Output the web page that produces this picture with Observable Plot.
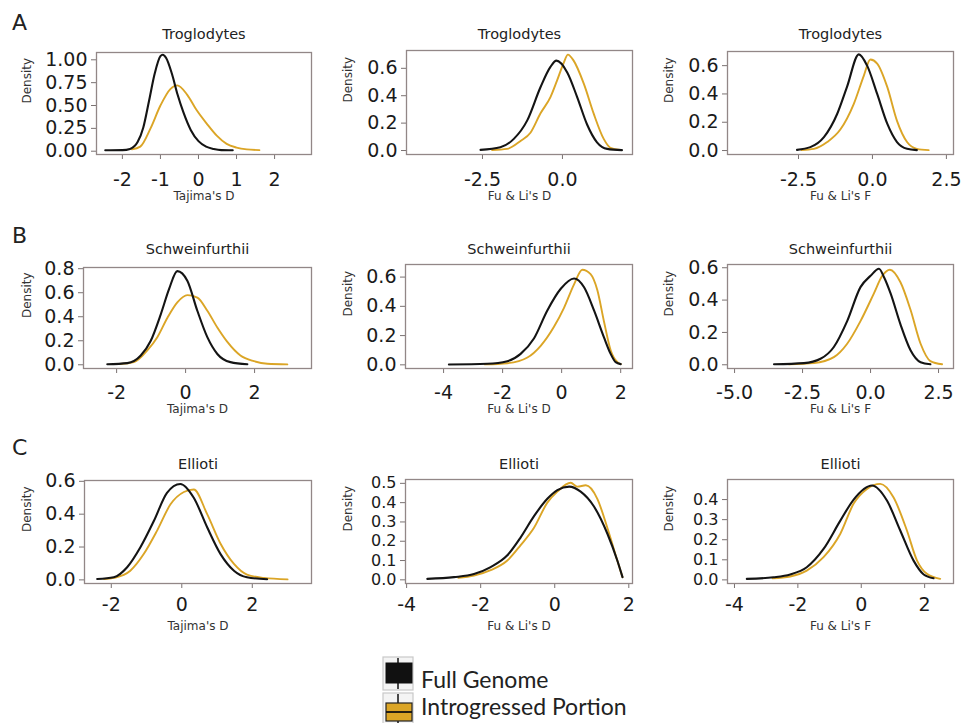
<!DOCTYPE html>
<html>
<head>
<meta charset="utf-8">
<script src="https://cdn.jsdelivr.net/npm/d3@7"></script>
<script src="https://cdn.jsdelivr.net/npm/@observablehq/plot@0.6"></script>
<style>
  html, body { margin: 0; padding: 0; background: #fff; }
  #fig { position: relative; width: 962px; height: 723px; overflow: hidden; background: #fff; }
  #fig > .panel { position: absolute; }
  #fig > svg.overlay { position: absolute; left: 0; top: 0; }
  #fig svg text { font-family: "DejaVu Sans", "Liberation Sans", sans-serif; }
  #fig svg text.leg { font-family: "Lato", "Open Sans", sans-serif; }
</style>
</head>
<body>
<div id="fig"></div>
<script>
// ---------------- DATA ----------------
// Row A: Troglodytes
const trogTajFullX  = [-2.45,-2.0,-1.8,-1.6,-1.45,-1.3,-1.15,-1.0,-0.94,-0.85,-0.7,-0.55,-0.4,-0.2,0,0.2,0.4,0.6,0.9];
const trogTajFullY  = [0.01,0.012,0.025,0.1,0.26,0.55,0.85,1.04,1.055,1.02,0.85,0.62,0.43,0.23,0.11,0.05,0.025,0.012,0.01];
const trogTajIntX   = [-1.75,-1.53,-1.26,-1.0,-0.74,-0.56,-0.3,-0.05,0.22,0.48,0.74,1.0,1.27,1.6];
const trogTajIntY   = [0.02,0.05,0.25,0.5,0.68,0.72,0.62,0.45,0.3,0.17,0.08,0.04,0.02,0.012];

const trogFLDFullX  = [-2.56,-1.94,-1.52,-1.1,-0.69,-0.375,-0.19,0.15,0.46,0.77,1.08,1.4,1.86];
const trogFLDFullY  = [0.005,0.024,0.085,0.22,0.46,0.61,0.656,0.57,0.39,0.19,0.06,0.012,0.003];
const trogFLDIntX   = [-2.2,-1.73,-1.31,-1.0,-0.69,-0.375,-0.17,0.04,0.17,0.35,0.67,0.98,1.29,1.5,1.81];
const trogFLDIntY   = [0.004,0.012,0.07,0.13,0.27,0.39,0.51,0.64,0.70,0.656,0.486,0.267,0.085,0.02,0.004];

const trogFLFFullX  = [-2.55,-2.1,-1.64,-1.19,-0.86,-0.46,-0.18,0.16,0.5,0.83,1.17,1.5];
const trogFLFFullY  = [0.005,0.024,0.095,0.26,0.45,0.68,0.6,0.4,0.19,0.06,0.012,0.003];
const trogFLFIntX   = [-2.4,-1.98,-1.53,-1.08,-0.63,-0.29,-0.07,0.16,0.5,0.83,1.17,1.5,1.9];
const trogFLFIntY   = [0.004,0.012,0.06,0.15,0.33,0.53,0.643,0.615,0.45,0.21,0.06,0.012,0.003];

// Row B: Schweinfurthii
const schwTajFullX  = [-2.27,-1.69,-1.3,-1.01,-0.72,-0.48,-0.24,0.05,0.34,0.63,0.92,1.3,1.79];
const schwTajFullY  = [0.005,0.014,0.077,0.2,0.42,0.63,0.78,0.7,0.45,0.23,0.09,0.022,0.005];
const schwTajIntX   = [-1.9,-1.5,-1.11,-0.82,-0.53,-0.24,0.05,0.34,0.63,0.92,1.21,1.59,1.98,2.37,2.95];
const schwTajIntY   = [0.006,0.022,0.12,0.23,0.39,0.52,0.58,0.56,0.45,0.31,0.19,0.077,0.03,0.008,0.003];

const schwFLDFullX  = [-3.82,-2.52,-1.84,-1.39,-0.94,-0.49,-0.03,0.42,0.76,1.1,1.43,1.66,1.83,2.0];
const schwFLDFullY  = [0.002,0.007,0.025,0.075,0.18,0.37,0.52,0.59,0.53,0.37,0.19,0.075,0.018,0.005];
const schwFLDIntX   = [-2.6,-1.84,-1.16,-0.71,-0.26,0.08,0.42,0.7,0.98,1.21,1.43,1.66,1.89,2.0];
const schwFLDIntY   = [0.003,0.011,0.05,0.13,0.26,0.39,0.55,0.65,0.62,0.51,0.30,0.1,0.018,0.005];

const schwFLFFullX  = [-3.55,-2.45,-1.84,-1.35,-0.86,-0.37,0.0,0.31,0.5,0.74,1.1,1.47,1.84,2.2];
const schwFLFFullY  = [0.003,0.01,0.037,0.11,0.27,0.48,0.55,0.594,0.54,0.44,0.25,0.09,0.016,0.003];
const schwFLFIntX   = [-3.0,-2.08,-1.35,-0.86,-0.37,0.12,0.43,0.71,1.1,1.47,1.84,2.2,2.63];
const schwFLFIntY   = [0.003,0.01,0.047,0.13,0.27,0.44,0.55,0.588,0.51,0.34,0.13,0.023,0.003];

// Row C: Ellioti
const ellTajFullX   = [-2.4,-1.93,-1.55,-1.17,-0.79,-0.42,-0.04,0.34,0.72,1.1,1.48,1.85,2.42];
const ellTajFullY   = [0.005,0.016,0.077,0.2,0.36,0.53,0.584,0.5,0.32,0.157,0.056,0.016,0.004];
const ellTajIntX    = [-2.2,-1.93,-1.46,-1.08,-0.7,-0.32,0.06,0.34,0.72,1.1,1.48,1.85,2.33,3.0];
const ellTajIntY    = [0.005,0.012,0.056,0.157,0.3,0.46,0.535,0.55,0.4,0.22,0.097,0.032,0.012,0.003];

const ellFLDFullX   = [-3.44,-2.72,-2.18,-1.73,-1.28,-0.92,-0.56,-0.2,0.07,0.39,0.7,1.06,1.42,1.69,1.83];
const ellFLDFullY   = [0.005,0.014,0.03,0.066,0.127,0.22,0.33,0.42,0.465,0.483,0.457,0.38,0.24,0.1,0.014];
const ellFLDIntX    = [-2.6,-2.18,-1.73,-1.28,-0.92,-0.56,-0.2,0.07,0.43,0.61,0.84,1.15,1.42,1.69,1.83];
const ellFLDIntY    = [0.01,0.022,0.05,0.1,0.18,0.27,0.4,0.457,0.503,0.483,0.49,0.42,0.27,0.1,0.014];

const ellFLFFullX   = [-3.61,-2.77,-2.24,-1.72,-1.19,-0.66,-0.24,0.34,0.81,1.23,1.65,1.97,2.28];
const ellFLFFullY   = [0.005,0.013,0.027,0.063,0.154,0.295,0.40,0.47,0.395,0.246,0.096,0.027,0.008];
const ellFLFIntX    = [-2.8,-2.24,-1.72,-1.19,-0.66,-0.24,0.18,0.6,1.02,1.44,1.76,2.07,2.49];
const ellFLFIntY    = [0.008,0.017,0.046,0.113,0.23,0.38,0.453,0.478,0.41,0.246,0.096,0.03,0.005];

// Titles, axis labels, ticks
const rowTitles   = ["Troglodytes", "Schweinfurthii", "Ellioti"];
const rowLetters  = ["A", "B", "C"];
const colLabels   = ["Tajima's D", "Fu & Li's D", "Fu & Li's F"];
const yLabel      = "Density";
const legendNames = ["Full Genome", "Introgressed Portion"];

const xTicks = [
  [[-2,-1,0,1,2], [-2.5,0], [-2.5,0,2.5]],
  [[-2,0,2], [-4,-2,0,2], [-5,-2.5,0,2.5]],
  [[-2,0,2], [-4,-2,0,2], [-4,-2,0,2]]
];
const xDigits = [[0,1,1],[0,0,1],[0,0,0]];
const yTicks = [
  [[0,0.25,0.5,0.75,1], [0,0.2,0.4,0.6], [0,0.2,0.4,0.6]],
  [[0,0.2,0.4,0.6,0.8], [0,0.2,0.4,0.6], [0,0.2,0.4,0.6]],
  [[0,0.2,0.4,0.6], [0,0.1,0.2,0.3,0.4,0.5], [0,0.1,0.2,0.3,0.4]]
];
const yDigits = [[2,1,1],[1,1,1],[1,1,1]];

const curves = [
  [[trogTajFullX,trogTajFullY,trogTajIntX,trogTajIntY],[trogFLDFullX,trogFLDFullY,trogFLDIntX,trogFLDIntY],[trogFLFFullX,trogFLFFullY,trogFLFIntX,trogFLFIntY]],
  [[schwTajFullX,schwTajFullY,schwTajIntX,schwTajIntY],[schwFLDFullX,schwFLDFullY,schwFLDIntX,schwFLDIntY],[schwFLFFullX,schwFLFFullY,schwFLFIntX,schwFLFIntY]],
  [[ellTajFullX,ellTajFullY,ellTajIntX,ellTajIntY],[ellFLDFullX,ellFLDFullY,ellFLDIntX,ellFLDIntY],[ellFLFFullX,ellFLFFullY,ellFLFIntX,ellFLFIntY]]
];

// ---------------- LAYOUT ----------------
const colLeft = [0, 320, 640];
const colW    = [320, 320, 322];
const rowTop  = [0, 210, 420];
const H = 222;
// frame boxes [left, right, top, bottom] in page px
const frames = [
  [[96,311,52,154],[406,632,50,154],[727,953,51,154]],
  [[83,311,267,368],[405,632,264,368],[727,953,264,368]],
  [[84,311,480,583],[405,632,479,583],[727,953,479,583]]
];
const xDomains = [
  [[-2.68,2.97],[-4.875,2.19],[-4.9,2.74]],
  [[-2.96,3.65],[-5.29,2.4],[-5.26,3.05]],
  [[-2.76,3.68],[-4.03,2.1],[-4.22,2.91]]
];
const yDomains = [
  [[-0.036,1.08],[-0.029,0.73],[-0.028,0.70]],
  [[-0.031,0.81],[-0.025,0.686],[-0.023,0.62]],
  [[-0.022,0.605],[-0.019,0.52],[-0.018,0.5]]
];
const titleBase = [33, 248, 462.5];
const xLabBase  = [203, 416, 633];
const tickTop   = [18, 17, 14];
const densCX    = [26.7, 348, 669];
const yTickFS   = [[19,19,19],[19,19,19],[19,16,16]];

const ORANGE = "#DBA526";
const BLACK  = "#141414";
const FONT = "'DejaVu Sans', 'Liberation Sans', sans-serif";
const TICK_FS = 19;

const fig = document.getElementById("fig");

for (let r = 0; r < 3; r++) {
  for (let c = 0; c < 3; c++) {
    const [fL, fR, fT, fB] = frames[r][c];
    const left = colLeft[c], top = rowTop[r], W = colW[c];
    const [fx, fy, ix, iy] = curves[r][c];
    const full  = fx.map((x, i) => ({x, y: fy[i]}));
    const intro = ix.map((x, i) => ({x, y: iy[i]}));
    const xd = xDigits[r][c], yd = yDigits[r][c];
    const tsize = 5;
    const plot = Plot.plot({
      width: W, height: H,
      marginLeft: fL - left, marginRight: left + W - fR,
      marginTop: fT - top, marginBottom: top + H - fB,
      x: {domain: xDomains[r][c]},
      y: {domain: yDomains[r][c]},
      style: {fontFamily: FONT, background: "transparent", overflow: "visible", color: "#1e1e1e"},
      marks: [
        Plot.axisX({ticks: xTicks[r][c], tickFormat: d => d.toFixed(xd), tickSize: tsize,
          tickPadding: tickTop[r] - tsize, fontSize: TICK_FS, label: null, stroke: "#7a7272", fill: "#1a1a1a"}),
        Plot.axisY({ticks: yTicks[r][c], tickFormat: d => d.toFixed(yd), tickSize: tsize,
          tickPadding: 4, fontSize: yTickFS[r][c], label: null, stroke: "#7a7272", fill: "#1a1a1a"}),
        Plot.line(intro, {x: "x", y: "y", stroke: ORANGE, strokeWidth: 1.9, curve: "monotone-x"}),
        Plot.line(full, {x: "x", y: "y", stroke: BLACK, strokeWidth: 2.1, curve: "monotone-x"}),
        Plot.frame({stroke: "#928787", strokeWidth: 1.3}),
        Plot.text([rowTitles[r]], {text: d => d, frameAnchor: "top", fontSize: 14.5, fill: "#222",
          dy: titleBase[r] - fT - 0.32 * 14.5}),
        Plot.text([colLabels[c]], {text: d => d, frameAnchor: "bottom", fontSize: 12, fill: "#333",
          dy: xLabBase[r] - fB - 0.32 * 12}),
        Plot.text([yLabel], {text: d => d, frameAnchor: "left", rotate: -90, fontSize: 12, fill: "#333",
          dx: densCX[c] - fL})
      ]
    });
    const wrap = document.createElement("div");
    wrap.className = "panel";
    wrap.style.left = left + "px";
    wrap.style.top = top + "px";
    wrap.appendChild(plot);
    fig.appendChild(wrap);
  }
}

// Overlay: panel letters and legend
const ns = "http://www.w3.org/2000/svg";
const ov = document.createElementNS(ns, "svg");
ov.setAttribute("class", "overlay");
ov.setAttribute("width", 962);
ov.setAttribute("height", 723);
const letterBase = [30, 243, 455];
rowLetters.forEach((L, i) => {
  const t = document.createElementNS(ns, "text");
  t.setAttribute("x", 12); t.setAttribute("y", letterBase[i]);
  t.setAttribute("font-size", 22); t.setAttribute("fill", "#222");
  t.textContent = L; ov.appendChild(t);
});
function el(tag, attrs) {
  const e = document.createElementNS(ns, tag);
  for (const k in attrs) e.setAttribute(k, attrs[k]);
  ov.appendChild(e); return e;
}
// legend key 1 (black boxplot)
el("rect", {x: 383, y: 657, width: 30, height: 33, fill: "#f4f4f4", stroke: "#c8c8c8", "stroke-width": 1.2});
el("line", {x1: 398, x2: 398, y1: 658, y2: 689, stroke: "#111", "stroke-width": 1.5});
el("rect", {x: 386, y: 663, width: 26, height: 20, fill: "#111", stroke: "#111", "stroke-width": 1});
// legend key 2 (orange boxplot)
el("rect", {x: 383, y: 693, width: 30, height: 32, fill: "#f4f4f4", stroke: "#c8c8c8", "stroke-width": 1.2});
el("line", {x1: 398, x2: 398, y1: 694, y2: 723, stroke: "#111", "stroke-width": 1.5});
el("rect", {x: 386, y: 703, width: 26, height: 18, fill: ORANGE, stroke: "#222", "stroke-width": 1.2});
el("line", {x1: 386, x2: 412, y1: 712, y2: 712, stroke: "#111", "stroke-width": 1.8});
legendNames.forEach((n, i) => {
  const t = el("text", {x: 421, y: [688, 715][i], "font-size": 23, fill: "#222", class: "leg"});
  t.textContent = n;
});
fig.appendChild(ov);
</script>
</body>
</html>
